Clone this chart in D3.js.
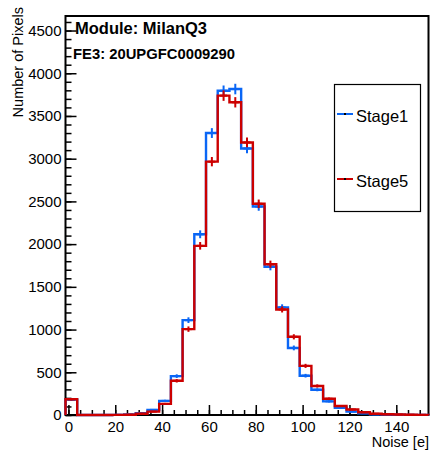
<!DOCTYPE html>
<html>
<head>
<meta charset="utf-8">
<script src="https://cdn.jsdelivr.net/npm/d3@7"></script>
<style>
  body { margin: 0; background: #fff; }
  text { font-family: "Liberation Sans", Arial, sans-serif; fill: #000; }
</style>
</head>
<body>
<div id="chart-area"></div>
<script>
// histogram: 31 bins of width 5, starting at -1.25
const binStart = -1.25;
const binWidth = 5;
const stage1 = [180, 0, 0, 0, 2, 5, 20, 60, 165, 455, 1110, 2115, 3300, 3795, 3815,
                3120, 2440, 1735, 1260, 785, 460, 295, 160, 85, 40, 20, 8, 4, 3, 2, 1];
const stage5 = [185, 0, 0, 0, 1, 3, 15, 40, 130, 400, 1005, 1980, 2965, 3738, 3660,
                3190, 2472, 1765, 1235, 915, 575, 340, 190, 105, 65, 32, 15, 8, 5, 3, 2];
const xTicks = [0, 20, 40, 60, 80, 100, 120, 140];
const xMinor = d3.range(0, 155, 5);
const yTicks = [0, 500, 1000, 1500, 2000, 2500, 3000, 3500, 4000, 4500];
const yMinor = d3.range(0, 4700, 100);
const seriesNames = ["Stage1", "Stage5"];
const seriesColors = ["#0a66f5", "#cc0000"];

const W = 432, H = 455;
const plot = { left: 65.5, right: 428.5, top: 16, bottom: 415 };

const svg = d3.select("#chart-area")
  .append("svg")
    .attr("width", W)
    .attr("height", H);

svg.append("rect").attr("width", W).attr("height", H).attr("fill", "#fff");

const nBins = stage1.length;
const xScale = d3.scaleLinear()
  .domain([binStart, binStart + nBins * binWidth])
  .range([plot.left, plot.right]);
const yScale = d3.scaleLinear()
  .domain([0, 4670])
  .range([plot.bottom, plot.top]);

// axes, ticks inside the frame (ROOT style)
svg.append("g")
    .attr("transform", `translate(0,${plot.bottom})`)
    .call(d3.axisBottom(xScale).tickValues(xTicks).tickFormat(d3.format("d"))
      .tickSizeInner(-10).tickSizeOuter(0).tickPadding(6));
svg.append("g")
    .attr("transform", `translate(0,${plot.bottom})`)
    .call(d3.axisBottom(xScale).tickValues(xMinor).tickSizeInner(-5).tickSizeOuter(0).tickFormat(""));

svg.append("g")
    .attr("transform", `translate(${plot.left},0)`)
    .call(d3.axisLeft(yScale).tickValues(yTicks).tickFormat(d3.format("d"))
      .tickSizeInner(-11).tickSizeOuter(0).tickPadding(4));
svg.append("g")
    .attr("transform", `translate(${plot.left},0)`)
    .call(d3.axisLeft(yScale).tickValues(yMinor).tickSizeInner(-6).tickSizeOuter(0).tickFormat(""));

svg.selectAll(".domain").remove();
svg.selectAll(".tick line").attr("stroke", "#000").attr("stroke-width", 1.5);
svg.selectAll(".tick text").style("font-size", "15px").attr("fill", "#000");

// frame
svg.append("rect")
    .attr("x", plot.left)
    .attr("y", plot.top)
    .attr("width", plot.right - plot.left)
    .attr("height", plot.bottom - plot.top)
    .attr("fill", "none")
    .attr("stroke", "#000")
    .attr("stroke-width", 2);

// histograms
function drawHist(values, color) {
  const pts = [[xScale(binStart), yScale(0)]];
  values.forEach((v, i) => {
    const x0 = binStart + i * binWidth;
    pts.push([xScale(x0), yScale(v)]);
    pts.push([xScale(x0 + binWidth), yScale(v)]);
  });
  pts.push([xScale(binStart + values.length * binWidth), yScale(0)]);

  svg.append("path")
      .attr("d", d3.line()(pts))
      .attr("fill", "none")
      .attr("stroke", color)
      .attr("stroke-width", 2.4);

  const err = svg.append("g").attr("stroke", color).attr("stroke-width", 2);
  values.forEach((v, i) => {
    if (v <= 0) return;
    const xc = xScale(binStart + (i + 0.5) * binWidth);
    const e = Math.sqrt(v);
    err.append("line")
        .attr("x1", xc).attr("x2", xc)
        .attr("y1", yScale(v - e)).attr("y2", yScale(v + e));
    err.append("line")
        .attr("x1", xc - 3.5).attr("x2", xc + 3.5)
        .attr("y1", yScale(v)).attr("y2", yScale(v));
  });
}
drawHist(stage1, seriesColors[0]);
drawHist(stage5, seriesColors[1]);

// titles
svg.append("text")
    .attr("transform", "translate(23,7) rotate(-90)")
    .attr("text-anchor", "end")
    .style("font-size", "14.5px")
    .text("Number of Pixels");

svg.append("text")
    .attr("x", 429)
    .attr("y", 447)
    .attr("text-anchor", "end")
    .style("font-size", "14.5px")
    .text("Noise [e]");

svg.append("text")
    .attr("x", 75)
    .attr("y", 34)
    .style("font-size", "16.5px")
    .style("font-weight", "bold")
    .text("Module: MilanQ3");

svg.append("text")
    .attr("x", 73)
    .attr("y", 59)
    .style("font-size", "14.8px")
    .style("font-weight", "bold")
    .text("FE3: 20UPGFC0009290");

// legend
const legend = svg.append("g");
legend.append("rect")
    .attr("x", 334.5).attr("y", 84.5)
    .attr("width", 86).attr("height", 127)
    .attr("fill", "#fff")
    .attr("stroke", "#000")
    .attr("stroke-width", 1.2);

const legendY = [114, 179];
seriesNames.forEach((name, i) => {
  const g = legend.append("g").attr("transform", `translate(0,${legendY[i]})`);
  g.append("line")
      .attr("x1", 337).attr("x2", 353)
      .attr("stroke", seriesColors[i])
      .attr("stroke-width", 2);
  g.append("rect")
      .attr("x", 344).attr("y", -1).attr("width", 2).attr("height", 2)
      .attr("fill", "#000");
  g.append("text")
      .attr("x", 356)
      .attr("y", 7.5)
      .style("font-size", "16.5px")
      .text(name);
});
</script>
</body>
</html>
